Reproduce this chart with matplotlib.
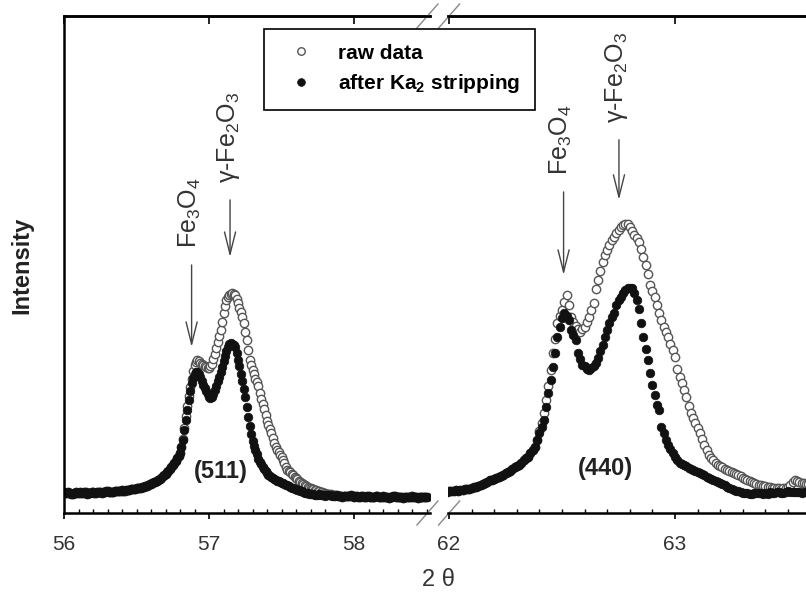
import numpy as np
import matplotlib
matplotlib.use("Agg")
import matplotlib.pyplot as plt
from matplotlib.ticker import MultipleLocator, NullLocator

plt.rcParams['font.family'] = ['Liberation Sans', 'DejaVu Sans']
plt.rcParams['mathtext.fontset'] = 'custom'
plt.rcParams['mathtext.rm'] = 'Liberation Sans'
plt.rcParams['mathtext.it'] = 'Liberation Sans:italic'
plt.rcParams['mathtext.bf'] = 'Liberation Sans:bold'

# scan step (deg 2theta) and first angle of each window
step = 0.01
start_511 = 56.00
start_440 = 61.99

# (511) window after Ka2 stripping, 56.00 .. 58.50, one row = 0.1 deg
strip_511 = [
    4.2, 4.1, 4.0, 4.2, 4.1, 3.9, 3.9, 4.0, 4.2, 4.1,
    4.0, 4.2, 4.1, 4.0, 4.3, 4.2, 3.9, 4.0, 4.1, 4.2,
    4.2, 4.1, 4.0, 4.2, 4.3, 4.2, 4.1, 4.3, 4.2, 4.4,
    4.4, 4.3, 4.2, 4.3, 4.3, 4.4, 4.5, 4.4, 4.4, 4.5,
    4.6, 4.5, 4.5, 4.6, 4.7, 4.7, 4.8, 4.8, 4.9, 4.9,
    5.0, 5.0, 5.1, 5.1, 5.3, 5.3, 5.4, 5.5, 5.7, 5.8,
    5.9, 6.0, 6.2, 6.3, 6.5, 6.7, 6.9, 7.1, 7.4, 7.6,
    7.9, 8.2, 8.5, 8.8, 9.2, 9.6, 10.1, 10.5, 11.0, 11.5,
    12.0, 13.2, 14.7, 16.6, 18.8, 20.7, 22.7, 24.5, 26.2, 27.2,
    27.9, 28.3, 28.4, 28.0, 27.3, 26.5, 25.7, 25.1, 24.5, 23.9,
    23.3, 23.1, 23.3, 23.9, 24.7, 25.6, 26.5, 27.4, 28.3, 29.4,
    30.5, 31.6, 32.6, 33.4, 34.0, 34.2, 34.1, 33.8, 33.3, 32.2,
    30.8, 29.5, 28.0, 26.5, 25.0, 23.3, 21.4, 19.4, 17.5, 15.8,
    14.4, 13.5, 12.7, 11.8, 10.9, 10.3, 9.8, 9.3, 8.8, 8.4,
    8.0, 7.7, 7.5, 7.2, 7.0, 6.8, 6.7, 6.5, 6.4, 6.2,
    6.1, 6.0, 5.9, 5.7, 5.6, 5.4, 5.3, 5.1, 5.0, 4.9,
    4.8, 4.7, 4.6, 4.5, 4.4, 4.2, 4.1, 4.0, 4.0, 3.9,
    3.8, 3.9, 3.9, 3.7, 3.6, 3.7, 3.8, 3.7, 3.7, 3.6,
    3.5, 3.6, 3.7, 3.6, 3.6, 3.5, 3.4, 3.5, 3.6, 3.5,
    3.5, 3.4, 3.3, 3.4, 3.5, 3.5, 3.4, 3.5, 3.6, 3.4,
    3.3, 3.4, 3.4, 3.3, 3.2, 3.4, 3.5, 3.3, 3.3, 3.4,
    3.4, 3.3, 3.2, 3.3, 3.3, 3.4, 3.5, 3.3, 3.2, 3.3,
    3.4, 3.3, 3.3, 3.2, 3.1, 3.2, 3.3, 3.4, 3.4, 3.3,
    3.2, 3.3, 3.3, 3.2, 3.1, 3.2, 3.3, 3.2, 3.2, 3.3,
    3.4, 3.3, 3.2, 3.2, 3.1, 3.2, 3.3, 3.2, 3.2, 3.3,
    3.3,
]

# (511) window raw data
raw_511 = [
    4.2, 4.1, 4.0, 4.2, 4.1, 3.9, 3.9, 4.0, 4.2, 4.1,
    4.0, 4.2, 4.1, 4.0, 4.3, 4.2, 3.9, 4.0, 4.1, 4.2,
    4.2, 4.1, 4.0, 4.2, 4.3, 4.2, 4.1, 4.3, 4.2, 4.4,
    4.4, 4.3, 4.2, 4.3, 4.3, 4.4, 4.5, 4.4, 4.4, 4.5,
    4.6, 4.5, 4.5, 4.6, 4.7, 4.7, 4.8, 4.8, 4.9, 4.9,
    5.0, 5.0, 5.1, 5.1, 5.3, 5.3, 5.4, 5.5, 5.7, 5.8,
    5.9, 6.0, 6.2, 6.3, 6.5, 6.7, 6.9, 7.1, 7.4, 7.6,
    7.9, 8.2, 8.5, 8.8, 9.2, 9.6, 10.1, 10.5, 11.0, 11.5,
    12.0, 13.3, 14.9, 17.2, 19.5, 21.5, 23.5, 25.3, 27.0, 28.5,
    29.8, 30.4, 30.8, 30.6, 30.2, 30.0, 29.8, 29.5, 29.3, 29.2,
    29.2, 29.5, 30.0, 31.0, 32.0, 33.2, 34.5, 35.6, 36.8, 38.5,
    40.2, 41.6, 42.9, 43.4, 43.8, 44.0, 44.2, 44.1, 43.9, 43.1,
    42.2, 41.3, 40.4, 39.4, 38.2, 36.5, 34.8, 32.8, 30.8, 29.8,
    28.8, 27.9, 27.0, 26.3, 25.5, 24.2, 23.0, 22.0, 21.0, 19.8,
    18.6, 17.8, 17.0, 16.0, 15.0, 14.1, 13.2, 12.7, 12.2, 11.7,
    11.2, 10.6, 10.0, 9.3, 8.6, 8.4, 8.2, 7.9, 7.6, 7.3,
    7.1, 6.8, 6.5, 6.2, 6.0, 5.8, 5.6, 5.4, 5.3, 5.1,
    5.0, 4.9, 4.8, 4.7, 4.6, 4.5, 4.4, 4.3, 4.2, 4.1,
    4.0, 3.9, 3.9, 3.8, 3.8, 3.7, 3.7, 3.6, 3.6, 3.5,
    3.5, 3.4, 3.3, 3.4, 3.5, 3.5, 3.4, 3.5, 3.6, 3.4,
    3.3, 3.4, 3.4, 3.3, 3.2, 3.4, 3.5, 3.3, 3.3, 3.4,
    3.4, 3.3, 3.2, 3.3, 3.3, 3.4, 3.5, 3.3, 3.2, 3.3,
    3.4, 3.3, 3.3, 3.2, 3.1, 3.2, 3.3, 3.4, 3.4, 3.3,
    3.2, 3.3, 3.3, 3.2, 3.1, 3.2, 3.3, 3.2, 3.2, 3.3,
    3.4, 3.3, 3.2, 3.2, 3.1, 3.2, 3.3, 3.2, 3.2, 3.3,
    3.3,
]

# (440) window after Ka2 stripping, 61.99 .. 63.59
strip_440 = [
    4.3,
    4.4, 4.5, 4.4, 4.6, 4.5, 4.6, 4.7, 4.8, 4.8, 4.9,
    5.0, 5.2, 5.3, 5.4, 5.6, 5.8, 6.0, 6.2, 6.6, 6.7,
    6.9, 7.1, 7.3, 7.5, 7.7, 8.0, 8.2, 8.5, 8.8, 9.2,
    9.5, 9.7, 10.1, 10.6, 11.0, 11.3, 12.0, 12.6, 13.3, 14.6,
    16.0, 17.3, 18.7, 21.4, 24.1, 26.8, 29.4, 32.1, 35.5, 37.5,
    39.2, 40.2, 39.6, 38.8, 36.8, 35.8, 34.8, 32.1, 31.0, 29.8,
    29.6, 29.0, 28.8, 29.1, 29.5, 30.1, 31.2, 32.6, 33.8, 35.5,
    36.8, 38.2, 39.4, 40.2, 41.8, 42.9, 43.5, 44.3, 44.8, 45.2,
    45.3, 45.2, 44.3, 42.9, 41.0, 38.2, 35.5, 33.0, 30.8, 28.1,
    25.8, 23.8, 21.8, 20.7, 17.4, 16.0, 14.7, 13.6, 12.8, 12.0,
    11.2, 10.6, 10.0, 9.8, 9.6, 9.4, 9.1, 8.9, 8.7, 8.5,
    8.2, 8.0, 7.8, 7.6, 7.3, 7.1, 6.9, 6.7, 6.4, 6.2,
    6.0, 5.8, 5.6, 5.3, 5.1, 4.9, 4.6, 4.5, 4.4, 4.2,
    4.1, 4.0, 4.0, 3.9, 3.9, 4.0, 4.1, 4.0, 4.0, 3.9,
    4.0, 3.9, 4.2, 4.1, 4.0, 4.2, 4.3, 4.1, 4.1, 4.3,
    4.4, 4.3, 4.2, 4.3, 4.3, 4.2, 4.1, 4.2, 4.3, 4.3,
]

# (440) window raw data
raw_440 = [
    4.3,
    4.4, 4.5, 4.4, 4.6, 4.5, 4.6, 4.7, 4.8, 4.8, 4.9,
    5.0, 5.2, 5.3, 5.4, 5.6, 5.8, 6.0, 6.2, 6.6, 6.7,
    6.9, 7.1, 7.3, 7.5, 7.7, 8.0, 8.2, 8.5, 8.8, 9.2,
    9.5, 9.7, 10.1, 10.6, 11.0, 11.3, 12.0, 12.6, 13.3, 14.6,
    16.5, 18.2, 20.1, 22.8, 25.5, 28.8, 32.1, 35.1, 38.2, 39.6,
    40.8, 42.5, 43.9, 41.8, 39.5, 38.4, 37.6, 37.1, 36.5, 37.0,
    37.5, 38.5, 39.5, 40.8, 42.2, 45.0, 46.9, 48.6, 50.6, 52.0,
    52.9, 54.0, 54.9, 55.6, 56.3, 56.9, 57.6, 57.9, 58.1, 58.1,
    57.6, 56.8, 56.0, 55.3, 54.6, 53.2, 51.6, 49.9, 48.0, 45.9,
    44.7, 43.5, 41.9, 40.2, 38.8, 37.5, 36.5, 35.5, 34.0, 32.8,
    31.4, 28.9, 27.4, 26.1, 24.8, 23.4, 21.6, 20.2, 19.2, 18.2,
    17.1, 16.0, 14.9, 13.7, 12.7, 11.7, 11.1, 10.6, 10.0, 9.7,
    9.4, 9.2, 8.9, 8.7, 8.5, 8.2, 8.0, 7.8, 7.6, 7.4,
    7.1, 6.9, 6.7, 6.4, 6.2, 6.0, 5.8, 5.7, 5.6, 5.5,
    5.4, 5.3, 5.2, 5.1, 5.1, 5.0, 5.0, 4.9, 5.0, 5.1,
    5.3, 5.6, 6.2, 6.6, 6.5, 6.3, 6.1, 6.0, 5.9, 5.8,
]

x_511 = start_511 + step*np.arange(len(strip_511))
x_440 = start_440 + step*np.arange(len(strip_440))

# peak markers: (label, x, arrow head, arrow tail)
marks_511 = [("Fe$_3$O$_4$", 56.88, 33.4, 49.9), (u"\u03b3-Fe$_2$O$_3$", 57.145, 51.5, 63.0)]
marks_440 = [("Fe$_3$O$_4$", 62.507, 47.9, 64.6), (u"\u03b3-Fe$_2$O$_3$", 62.752, 63.0, 75.1)]

fig = plt.figure(figsize=(8.06, 6.01), dpi=100)
ax1 = fig.add_axes([64/806, 88/601, 366/806, 497/601])
ax2 = fig.add_axes([448/806, 88/601, 367/806, 497/601])

raw_style = dict(ls='none', marker='o', ms=6.0, mfc='white', mec='#555555', mew=1.0)
strip_style = dict(ls='none', marker='o', ms=6.2, mfc='#111111', mec='#111111', mew=0.5)

h_raw, = ax1.plot(x_511, raw_511, **raw_style)
h_strip, = ax1.plot(x_511, strip_511, **strip_style)
ax2.plot(x_440, raw_440, **raw_style)
ax2.plot(x_440, strip_440, **strip_style)

ax1.set_xlim(56.0, 58.524)
ax2.set_xlim(62 - 1/226, 62 + 366/226)
for ax in (ax1, ax2):
    ax.set_ylim(0, 100)
    ax.set_yticks([])
    ax.spines['right'].set_visible(False)
    for s in ('left', 'top', 'bottom'):
        ax.spines[s].set_linewidth(1.8)
    ax.xaxis.set_major_locator(MultipleLocator(1))
    ax.xaxis.set_minor_locator(MultipleLocator(0.1))
    ax.tick_params(axis='x', which='major', direction='out', length=4.5, width=1.2,
                   pad=11, labelsize=15, labelcolor='#333333')
    ax.tick_params(axis='x', which='minor', direction='in', length=3, width=1)
    top = ax.secondary_xaxis('top')
    top.xaxis.set_major_locator(MultipleLocator(1))
    top.xaxis.set_minor_locator(NullLocator())
    top.tick_params(direction='in', length=6, width=1.2, labeltop=False)
    top.spines['top'].set_linewidth(1.8)
ax2.spines['left'].set_visible(False)

# axis break marks
d = dict(color='#888888', lw=1, clip_on=False)
dx1, dx2, dy = 10.5/366, 10.5/367, 12/497
for yy in (0, 1):
    ax1.plot([0.993 - dx1, 0.993 + dx1], [yy - dy, yy + dy], transform=ax1.transAxes, **d)
    ax2.plot([0.003 - dx2, 0.003 + dx2], [yy - dy, yy + dy], transform=ax2.transAxes, **d)

# peak arrows and phase labels
for ax, marks in ((ax1, marks_511), (ax2, marks_440)):
    for label, xp, head, tail in marks:
        ax.annotate('', xy=(xp, head), xytext=(xp, tail),
                    arrowprops=dict(arrowstyle='->,head_length=1.6,head_width=0.4',
                                    mutation_scale=10, color='#444444', lw=1,
                                    shrinkA=0, shrinkB=0))
        ax.text(xp - 0.01, tail + 3.4, label, rotation=90, ha='center', va='bottom',
                fontsize=18, color='#333333')

ax1.text(57.083, 8.3, "(511)", ha='center', va='center', fontsize=17,
         fontweight='bold', color='#222222')
ax2.text(62.69, 9.0, "(440)", ha='center', va='center', fontsize=17,
         fontweight='bold', color='#222222')

fig.text(22/806, 1 - 265/601, "Intensity", rotation=90, ha='center', va='center',
         fontsize=17, fontweight='bold', color='#222222')
fig.text(438/806, 1 - 580/601, u"2 \u03b8", ha='center', va='center',
         fontsize=17, color='#333333')

leg = fig.legend([h_raw, h_strip], ["raw data", r"after Ka$_\mathbf{2}$ stripping"],
                 loc='upper left', bbox_to_anchor=(264/806, 1 - 29/601),
                 bbox_transform=fig.transFigure, borderaxespad=0, frameon=True,
                 fancybox=False, edgecolor='black', framealpha=1,
                 prop={'weight': 'bold', 'size': 15}, borderpad=0.7,
                 handlelength=2.15, handletextpad=0.7, labelspacing=0.45,
                 numpoints=1, markerscale=0.9)
leg.get_frame().set_linewidth(1.2)

fig.savefig("out.png", dpi=100)
